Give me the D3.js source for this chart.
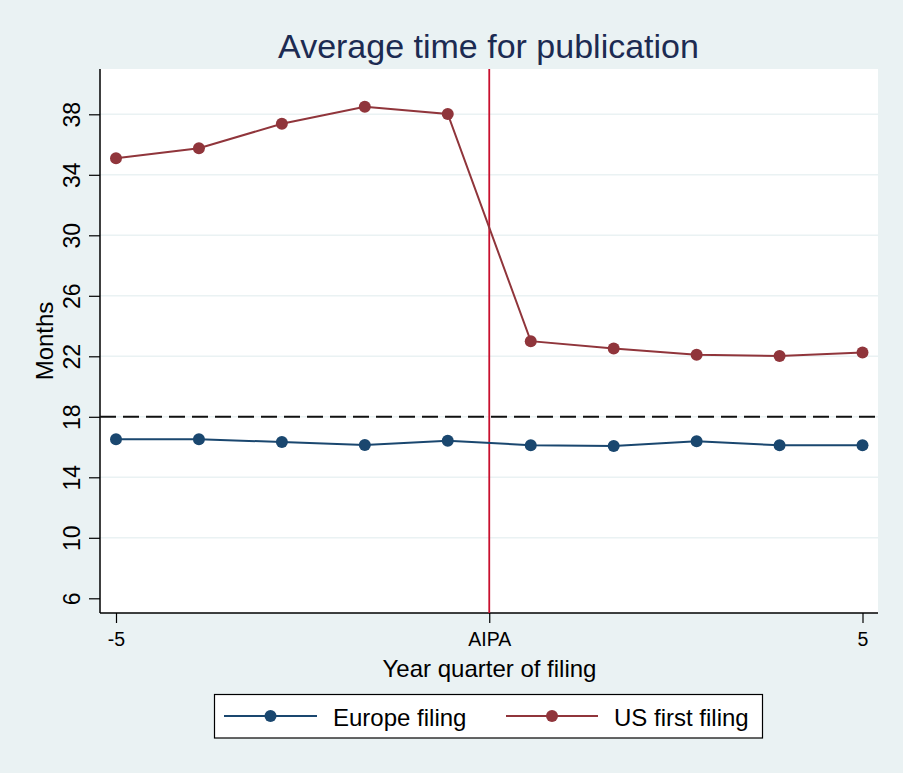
<!DOCTYPE html>
<html>
<head>
<meta charset="utf-8">
<script src="https://cdn.jsdelivr.net/npm/d3@7"></script>
<style>
  html, body { margin: 0; padding: 0; background: #EAF2F3; }
  svg { display: block; font-family: "Liberation Sans", Arial, sans-serif; }
</style>
</head>
<body>
<svg id="chart" width="903" height="773"></svg>
<script>
// ---- Data ----
const xPositions = [-5, -3.889, -2.778, -1.667, -0.556, 0.556, 1.667, 2.778, 3.889, 5];
const europeFiling = [16.51, 16.52, 16.33, 16.13, 16.42, 16.12, 16.07, 16.38, 16.12, 16.12];
const usFirstFiling = [35.1, 35.75, 37.38, 38.5, 38.02, 23.0, 22.52, 22.1, 22.02, 22.25];
const yTicks = [6, 10, 14, 18, 22, 26, 30, 34, 38];
const xTickValues = [-5, 0, 5];
const xTickLabels = ["-5", "AIPA", "5"];
const referenceLevel = 18;
const policyDate = 0;
const seriesNames = ["Europe filing", "US first filing"];
const seriesColors = ["#1a476f", "#90353b"];

// ---- Layout ----
const svg = d3.select("#chart");
const W = 903, H = 773;
const plot = { left: 100, right: 878, top: 69, bottom: 613 };

svg.append("rect").attr("width", W).attr("height", H).attr("fill", "#EAF2F3");

const x = d3.scaleLinear().domain([-5, 5]).range([116, 862.5]);
const y = d3.scaleLinear().domain([6, 38]).range([598.3, 114.3]);

// plot region
svg.append("rect")
  .attr("x", plot.left).attr("y", plot.top)
  .attr("width", plot.right - plot.left).attr("height", plot.bottom - plot.top)
  .attr("fill", "#ffffff");

// gridlines
svg.append("g").selectAll("line")
  .data(yTicks.filter(d => d !== 6))
  .join("line")
  .attr("x1", plot.left).attr("x2", plot.right)
  .attr("y1", d => y(d)).attr("y2", d => y(d))
  .attr("stroke", "#EAF2F3").attr("stroke-width", 1.5);

// Y axis
const yAxis = d3.axisLeft(y).tickValues(yTicks).tickSize(11).tickPadding(9).tickFormat(d3.format("d"));
const gy = svg.append("g").attr("transform", `translate(${plot.left},0)`).call(yAxis);
gy.select(".domain").remove();
gy.selectAll(".tick line").attr("stroke", "#000").attr("stroke-width", 1.2);
gy.selectAll(".tick text")
  .attr("font-size", 23).attr("fill", "#000")
  .attr("text-anchor", "middle")
  .attr("transform", "rotate(-90)")
  .attr("x", 0).attr("dx", null)
  .attr("dy", null);
gy.selectAll(".tick").each(function(d) {
  d3.select(this).select("text")
    .attr("transform", `translate(-20,0) rotate(-90)`)
    .attr("x", 0).attr("y", 0);
});
svg.append("line")
  .attr("x1", plot.left).attr("x2", plot.left)
  .attr("y1", plot.top).attr("y2", plot.bottom)
  .attr("stroke", "#000").attr("stroke-width", 1.5);

// X axis
const xAxis = d3.axisBottom(x).tickValues(xTickValues).tickSize(10).tickPadding(10)
  .tickFormat((d, i) => xTickLabels[i]);
const gx = svg.append("g").attr("transform", `translate(0,${plot.bottom})`).call(xAxis);
gx.select(".domain").remove();
gx.selectAll(".tick line").attr("stroke", "#000").attr("stroke-width", 1.2);
gx.selectAll(".tick text").attr("font-size", 19.5).attr("fill", "#000")
  .attr("dy", null).attr("y", 33);
svg.append("line")
  .attr("x1", plot.left).attr("x2", plot.right)
  .attr("y1", plot.bottom).attr("y2", plot.bottom)
  .attr("stroke", "#000").attr("stroke-width", 1.5);

// dashed reference line
svg.append("line")
  .attr("x1", plot.left).attr("x2", plot.right)
  .attr("y1", y(referenceLevel)).attr("y2", y(referenceLevel))
  .attr("stroke", "#111").attr("stroke-width", 2)
  .attr("stroke-dasharray", "16,7");

// vertical policy line
svg.append("line")
  .attr("x1", x(policyDate)).attr("x2", x(policyDate))
  .attr("y1", plot.top).attr("y2", plot.bottom)
  .attr("stroke", "#C8102E").attr("stroke-width", 1.8);

// series
const series = [europeFiling, usFirstFiling];
const line = d3.line().x((d, i) => x(xPositions[i])).y(d => y(d));
series.forEach((vals, si) => {
  svg.append("path").datum(vals)
    .attr("d", line).attr("fill", "none")
    .attr("stroke", seriesColors[si]).attr("stroke-width", 2);
  svg.append("g").selectAll("circle").data(vals).join("circle")
    .attr("cx", (d, i) => x(xPositions[i])).attr("cy", d => y(d))
    .attr("r", 6).attr("fill", seriesColors[si]);
});

// titles
svg.append("text").attr("x", 488.5).attr("y", 58.3)
  .attr("text-anchor", "middle").attr("font-size", 34).attr("fill", "#1c2b52")
  .text("Average time for publication");
svg.append("text").attr("x", 489.5).attr("y", 677)
  .attr("text-anchor", "middle").attr("font-size", 24).attr("fill", "#000")
  .text("Year quarter of filing");
svg.append("text").attr("transform", `translate(53,341) rotate(-90)`)
  .attr("text-anchor", "middle").attr("font-size", 24).attr("fill", "#000")
  .text("Months");

// legend
const lg = svg.append("g");
lg.append("rect").attr("x", 214.5).attr("y", 694.5).attr("width", 548).attr("height", 43.5)
  .attr("fill", "#fff").attr("stroke", "#000").attr("stroke-width", 1.2);
const legendItems = [
  { x1: 224, x2: 317, tx: 333 },
  { x1: 506, x2: 598, tx: 614 }
];
legendItems.forEach((it, i) => {
  lg.append("line").attr("x1", it.x1).attr("x2", it.x2).attr("y1", 716).attr("y2", 716)
    .attr("stroke", seriesColors[i]).attr("stroke-width", 2);
  lg.append("circle").attr("cx", (it.x1 + it.x2) / 2).attr("cy", 716).attr("r", 6)
    .attr("fill", seriesColors[i]);
  lg.append("text").attr("x", it.tx).attr("y", 726).attr("font-size", 24).attr("fill", "#000")
    .text(seriesNames[i]);
});
</script>
</body>
</html>
